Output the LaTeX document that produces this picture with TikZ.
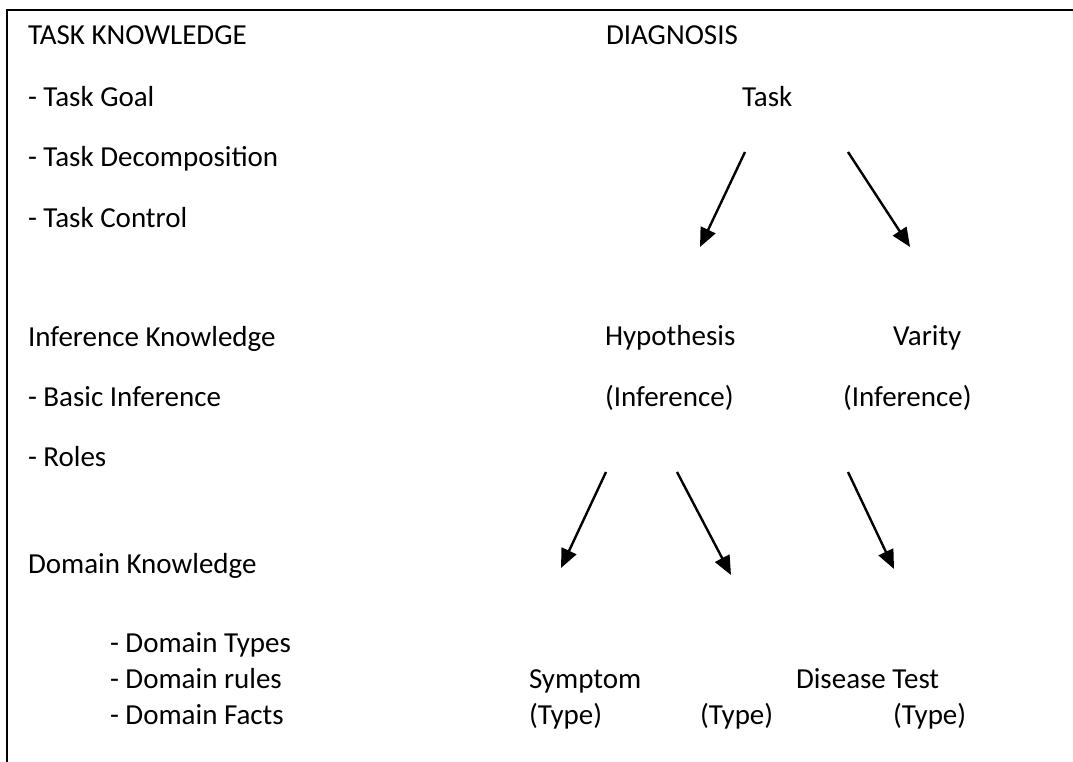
\documentclass[tikz,border=0pt]{standalone}
\usepackage{fontspec}
\setmainfont{Carlito}
\usetikzlibrary{arrows.meta}
\begin{document}
\begin{tikzpicture}[x=1pt,y=-1pt,
  txt/.style={anchor=base west,inner sep=0pt,outer sep=0pt,font=\fontsize{29}{35}\selectfont},
  arr/.style={line width=2.4pt,-{Triangle[length=19pt,width=16pt]}},
  frame/.style={line width=2.2pt}]
\useasboundingbox (0,0) rectangle (1073,762);
\draw[frame] (7,762) -- (7,10) -- (1073,10);
% left column
\node[txt] (tk) at (28,45) {TASK KNOWLEDGE};
\node[txt] (goal) at (28,107) {- Task Goal};
\node[txt] (decomp) at (28,167) {- Task Decomposition};
\node[txt] (control) at (28,227) {- Task Control};
\node[txt] (infk) at (28,346) {Inference Knowledge};
\node[txt] (basic) at (28,406) {- Basic Inference};
\node[txt] (roles) at (28,466) {- Roles};
\node[txt] (domk) at (28,573) {Domain Knowledge};
\node[txt] (dtypes) at (110,652) {- Domain Types};
\node[txt] (drules) at (110,688) {- Domain rules};
\node[txt] (dfacts) at (110,724) {- Domain Facts};
% right side
\node[txt] (diag) at (606,45) {DIAGNOSIS};
\node[txt] (task) at (742,107) {Task};
\node[txt] (hyp) at (605,345) {Hypothesis};
\node[txt] (var) at (893,345) {Varity};
\node[txt] (inf1) at (605,406) {(Inference)};
\node[txt] (inf2) at (843,406) {(Inference)};
\node[txt] (symp) at (529,688) {Symptom};
\node[txt] (dis) at (796,688) {Disease Test};
\node[txt] (ty1) at (529,724) {(Type)};
\node[txt] (ty2) at (700,724) {(Type)};
\node[txt] (ty3) at (893,724) {(Type)};
% arrow ends
\coordinate (a1s) at (745,152); \coordinate (a1e) at (700,247);
\coordinate (a2s) at (848,152); \coordinate (a2e) at (910,247);
\coordinate (b1s) at (606,472); \coordinate (b1e) at (561,568);
\coordinate (b2s) at (677,472); \coordinate (b2e) at (731,575);
\coordinate (b3s) at (848,472); \coordinate (b3e) at (894,569);
\draw[arr] (a1s) -- (a1e);
\draw[arr] (a2s) -- (a2e);
\draw[arr] (b1s) -- (b1e);
\draw[arr] (b2s) -- (b2e);
\draw[arr] (b3s) -- (b3e);
\end{tikzpicture}
\end{document}
